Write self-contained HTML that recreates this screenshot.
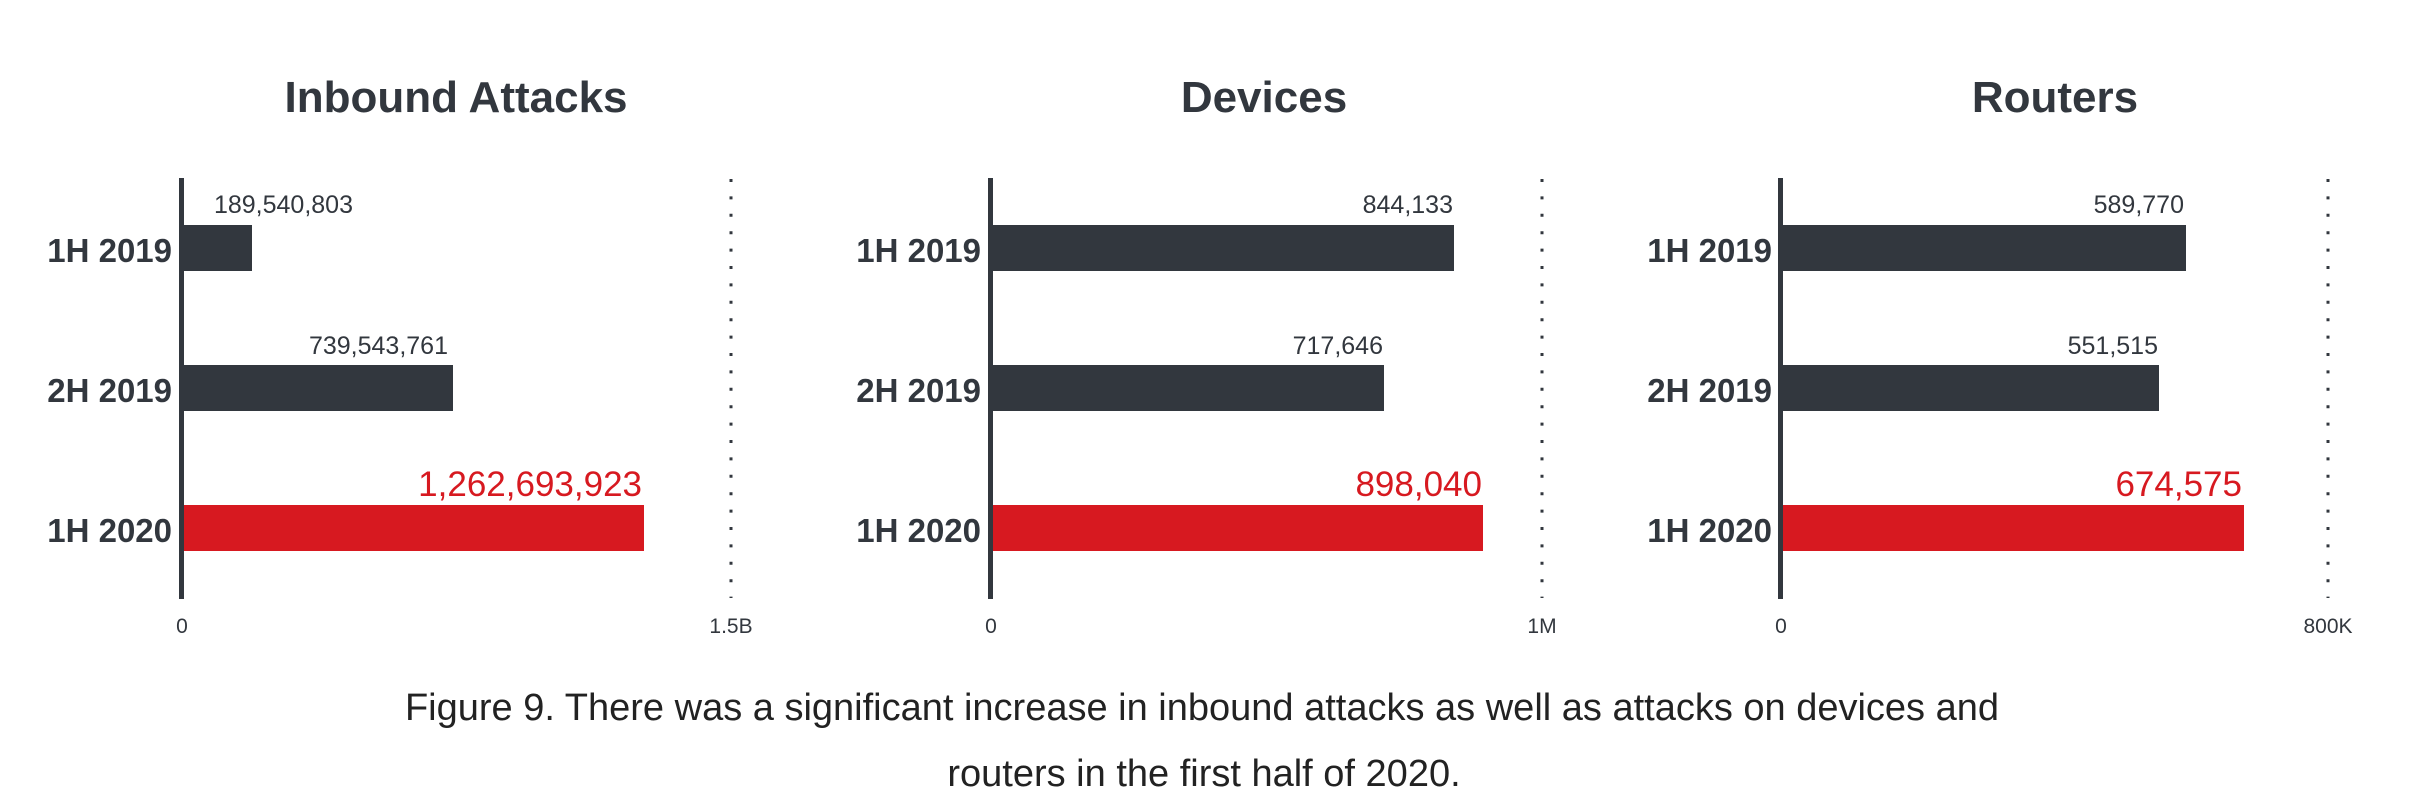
<!DOCTYPE html>
<html><head><meta charset="utf-8"><style>
html,body{margin:0;padding:0;background:#fff;}
svg{display:block;}
text{font-family:"Liberation Sans",sans-serif;}
.t{font-size:44px;font-weight:bold;fill:#32373e;text-anchor:middle;}
.c{font-size:33px;font-weight:bold;fill:#32373e;text-anchor:end;}
.v{font-size:25px;fill:#32373e;text-anchor:end;}
.r{font-size:35px;fill:#d71920;text-anchor:end;}
.k{font-size:21px;fill:#32373e;text-anchor:middle;}
.cap{font-size:38px;fill:#222;text-anchor:middle;}
</style></head><body>
<svg width="2420" height="803" viewBox="0 0 2420 803">
<!-- Chart 1 -->
<text class="t" x="456" y="112">Inbound Attacks</text>
<line x1="731" y1="179" x2="731" y2="598" stroke="#32373e" stroke-width="3" stroke-dasharray="3,14.4"/>
<rect x="184" y="225" width="68" height="46" fill="#32373e"/>
<rect x="184" y="365" width="269" height="46" fill="#32373e"/>
<rect x="181" y="505" width="463" height="46" fill="#d71920"/>
<rect x="179" y="178" width="5" height="421" fill="#32373e"/>
<text class="c" x="172" y="262">1H 2019</text>
<text class="c" x="172" y="402">2H 2019</text>
<text class="c" x="172" y="542">1H 2020</text>
<text class="v" x="353" y="213">189,540,803</text>
<text class="v" x="448" y="354">739,543,761</text>
<text class="r" x="642" y="496">1,262,693,923</text>
<text class="k" x="182" y="633">0</text>
<text class="k" x="731" y="633">1.5B</text>
<!-- Chart 2 -->
<text class="t" x="1264" y="112">Devices</text>
<line x1="1542" y1="179" x2="1542" y2="598" stroke="#32373e" stroke-width="3" stroke-dasharray="3,14.4"/>
<rect x="993" y="225" width="461" height="46" fill="#32373e"/>
<rect x="993" y="365" width="391" height="46" fill="#32373e"/>
<rect x="990" y="505" width="493" height="46" fill="#d71920"/>
<rect x="988" y="178" width="5" height="421" fill="#32373e"/>
<text class="c" x="981" y="262">1H 2019</text>
<text class="c" x="981" y="402">2H 2019</text>
<text class="c" x="981" y="542">1H 2020</text>
<text class="v" x="1453" y="213">844,133</text>
<text class="v" x="1383" y="354">717,646</text>
<text class="r" x="1482" y="496">898,040</text>
<text class="k" x="991" y="633">0</text>
<text class="k" x="1542" y="633">1M</text>
<!-- Chart 3 -->
<text class="t" x="2055" y="112">Routers</text>
<line x1="2328" y1="179" x2="2328" y2="598" stroke="#32373e" stroke-width="3" stroke-dasharray="3,14.4"/>
<rect x="1783" y="225" width="403" height="46" fill="#32373e"/>
<rect x="1783" y="365" width="376" height="46" fill="#32373e"/>
<rect x="1780" y="505" width="464" height="46" fill="#d71920"/>
<rect x="1778" y="178" width="5" height="421" fill="#32373e"/>
<text class="c" x="1772" y="262">1H 2019</text>
<text class="c" x="1772" y="402">2H 2019</text>
<text class="c" x="1772" y="542">1H 2020</text>
<text class="v" x="2184" y="213">589,770</text>
<text class="v" x="2158" y="354">551,515</text>
<text class="r" x="2242" y="496">674,575</text>
<text class="k" x="1781" y="633">0</text>
<text class="k" x="2328" y="633">800K</text>
<!-- Caption -->
<text class="cap" x="1202" y="720">Figure 9. There was a significant increase in inbound attacks as well as attacks on devices and</text>
<text class="cap" x="1204" y="786">routers in the first half of 2020.</text>
</svg>
</body></html>
